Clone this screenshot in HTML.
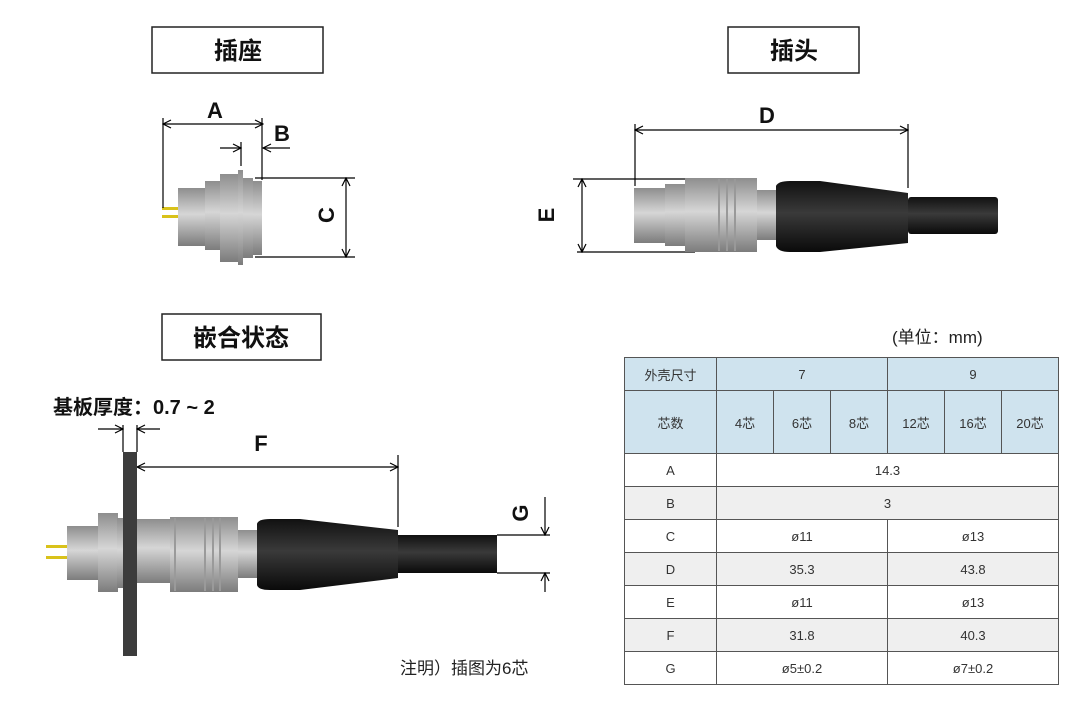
<!DOCTYPE html>
<html><head><meta charset="utf-8"><style>
body{margin:0;background:#fff;width:1080px;height:703px;overflow:hidden;position:relative;font-family:"Liberation Sans","Noto Sans CJK SC",sans-serif}
svg{position:absolute;left:0;top:0}
table{position:absolute;left:624px;top:357px;border-collapse:collapse;font-size:13px;color:#333;font-family:"Liberation Sans","Noto Sans CJK SC",sans-serif}
td{border:1px solid #555;text-align:center;padding:0;height:32px}
.h td{background:#cfe3ee}
.g td{background:#efefef}
</style></head><body>
<svg width="1080" height="703" viewBox="0 0 1080 703" font-family="Liberation Sans, Noto Sans CJK SC, sans-serif">
<defs>
<linearGradient id="m" x1="0" y1="0" x2="0" y2="1"><stop offset="0" stop-color="#8e8e8e"/><stop offset=".45" stop-color="#d6d6d6"/><stop offset="1" stop-color="#7c7c7c"/></linearGradient>
<linearGradient id="k" x1="0" y1="0" x2="0" y2="1"><stop offset="0" stop-color="#111"/><stop offset=".45" stop-color="#3a3a3a"/><stop offset="1" stop-color="#0a0a0a"/></linearGradient>
<marker id="a" markerWidth="10" markerHeight="10" refX="9" refY="5" orient="auto-start-reverse" markerUnits="userSpaceOnUse"><path d="M1,1 L9,5 L1,9" fill="none" stroke="#000" stroke-width="1.2"/></marker>
</defs>
<g fill="#fff" stroke="#222" stroke-width="1.5">
<rect x="152" y="27" width="171" height="46"/><rect x="728" y="27" width="131" height="46"/><rect x="162" y="314" width="159" height="46"/>
</g>
<g font-weight="bold" font-size="24" text-anchor="middle" fill="#111">
<text x="238" y="59">插座</text><text x="794" y="59">插头</text><text x="241" y="346">嵌合状态</text>
<text x="215" y="118" font-size="22">A</text><text x="282" y="141" font-size="22">B</text><text x="767" y="123" font-size="22">D</text><text x="261" y="451" font-size="22">F</text>
<text transform="translate(334,215) rotate(-90)" font-size="22">C</text>
<text transform="translate(554,215) rotate(-90)" font-size="22">E</text>
<text transform="translate(528,513) rotate(-90)" font-size="22">G</text>
<text x="53" y="414" font-size="20" text-anchor="start">基板厚度：0.7 ~ 2</text>
</g>
<text x="892" y="343" font-size="17" fill="#222">(单位：mm)</text>
<text x="400" y="674" font-size="17" fill="#222">注明）插图为6芯</text>
<!-- socket -->
<rect x="162" y="207" width="16" height="3" fill="#d9c21a"/><rect x="162" y="215" width="16" height="3" fill="#d9c21a"/>
<rect x="178" y="188" width="28" height="58" fill="url(#m)"/>
<rect x="205" y="181" width="16" height="69" fill="url(#m)"/>
<rect x="220" y="174" width="18" height="88" fill="url(#m)"/>
<rect x="238" y="170" width="5" height="95" fill="url(#m)"/>
<rect x="243" y="178" width="10" height="80" fill="url(#m)"/>
<rect x="253" y="181" width="9" height="74" fill="url(#m)"/>
<g stroke="#000" stroke-width="1.2" fill="none">
<line x1="163" y1="124" x2="263" y2="124" marker-start="url(#a)" marker-end="url(#a)"/>
<line x1="163" y1="118" x2="163" y2="208"/><line x1="262" y1="118" x2="262" y2="180"/>
<line x1="220" y1="148" x2="241" y2="148" marker-end="url(#a)"/><line x1="290" y1="148" x2="263" y2="148" marker-end="url(#a)"/>
<line x1="241" y1="142" x2="241" y2="166"/>
<line x1="255" y1="178" x2="355" y2="178"/><line x1="255" y1="257" x2="355" y2="257"/>
<line x1="346" y1="178" x2="346" y2="257" marker-start="url(#a)" marker-end="url(#a)"/>
<line x1="635" y1="130" x2="908" y2="130" marker-start="url(#a)" marker-end="url(#a)"/>
<line x1="635" y1="124" x2="635" y2="186"/><line x1="908" y1="124" x2="908" y2="188"/>
<line x1="573" y1="179" x2="698" y2="179"/><line x1="577" y1="252" x2="695" y2="252"/>
<line x1="582" y1="179" x2="582" y2="252" marker-start="url(#a)" marker-end="url(#a)"/>
<line x1="98" y1="429" x2="123" y2="429" marker-end="url(#a)"/><line x1="160" y1="429" x2="137" y2="429" marker-end="url(#a)"/>
<line x1="123" y1="425" x2="123" y2="452"/><line x1="137" y1="425" x2="137" y2="452"/>
<line x1="137" y1="467" x2="398" y2="467" marker-start="url(#a)" marker-end="url(#a)"/>
<line x1="398" y1="455" x2="398" y2="527"/>
<line x1="497" y1="535" x2="550" y2="535"/><line x1="497" y1="573" x2="550" y2="573"/>
<line x1="545" y1="497" x2="545" y2="535" marker-end="url(#a)"/><line x1="545" y1="592" x2="545" y2="573" marker-end="url(#a)"/>
</g>
<!-- plug -->
<rect x="634" y="188" width="32" height="55" fill="url(#m)"/>
<rect x="665" y="184" width="21" height="62" fill="url(#m)"/>
<rect x="685" y="178" width="72" height="74" fill="url(#m)"/>
<g stroke="#999" stroke-width="2"><line x1="719" y1="179" x2="719" y2="251"/><line x1="727" y1="179" x2="727" y2="251"/><line x1="735" y1="179" x2="735" y2="251"/></g>
<rect x="757" y="190" width="19" height="50" fill="url(#m)"/>
<path d="M776,186 Q778,181 790,181 L820,181 L908,193 L908,243 L820,252 L790,252 Q778,252 776,246Z" fill="url(#k)"/>
<rect x="908" y="197" width="90" height="37" rx="3" fill="url(#k)"/>
<!-- mated -->
<rect x="46" y="545" width="22" height="3" fill="#d9c21a"/><rect x="46" y="556" width="22" height="3" fill="#d9c21a"/>
<rect x="67" y="526" width="32" height="54" fill="url(#m)"/>
<rect x="98" y="513" width="20" height="79" fill="url(#m)"/>
<rect x="117" y="518" width="6" height="70" fill="url(#m)"/>
<rect x="123" y="452" width="14" height="204" fill="#3c3c3c"/>
<rect x="137" y="519" width="33" height="64" fill="url(#m)"/>
<rect x="170" y="517" width="68" height="75" fill="url(#m)"/>
<g stroke="#9a9a9a" stroke-width="2"><line x1="175" y1="518" x2="175" y2="591"/><line x1="205" y1="518" x2="205" y2="591"/><line x1="213" y1="518" x2="213" y2="591"/><line x1="220" y1="518" x2="220" y2="591"/></g>
<rect x="238" y="530" width="20" height="48" fill="url(#m)"/>
<path d="M257,524 Q258,519 270,519 L300,519 L398,530 L398,578 L300,590 L270,590 Q258,590 257,585Z" fill="url(#k)"/>
<rect x="398" y="535" width="99" height="38" fill="url(#k)"/>
</svg>
<table>
<tr class="h"><td style="width:91px;height:31px">外壳尺寸</td><td colspan="3">7</td><td colspan="3">9</td></tr>
<tr class="h"><td style="height:62px">芯数</td><td style="width:56px">4芯</td><td style="width:56px">6芯</td><td style="width:56px">8芯</td><td style="width:56px">12芯</td><td style="width:56px">16芯</td><td style="width:56px">20芯</td></tr>
<tr><td>A</td><td colspan="6">14.3</td></tr>
<tr class="g"><td>B</td><td colspan="6">3</td></tr>
<tr><td>C</td><td colspan="3">ø11</td><td colspan="3">ø13</td></tr>
<tr class="g"><td>D</td><td colspan="3">35.3</td><td colspan="3">43.8</td></tr>
<tr><td>E</td><td colspan="3">ø11</td><td colspan="3">ø13</td></tr>
<tr class="g"><td>F</td><td colspan="3">31.8</td><td colspan="3">40.3</td></tr>
<tr><td>G</td><td colspan="3">ø5±0.2</td><td colspan="3">ø7±0.2</td></tr>
</table>
</body></html>
